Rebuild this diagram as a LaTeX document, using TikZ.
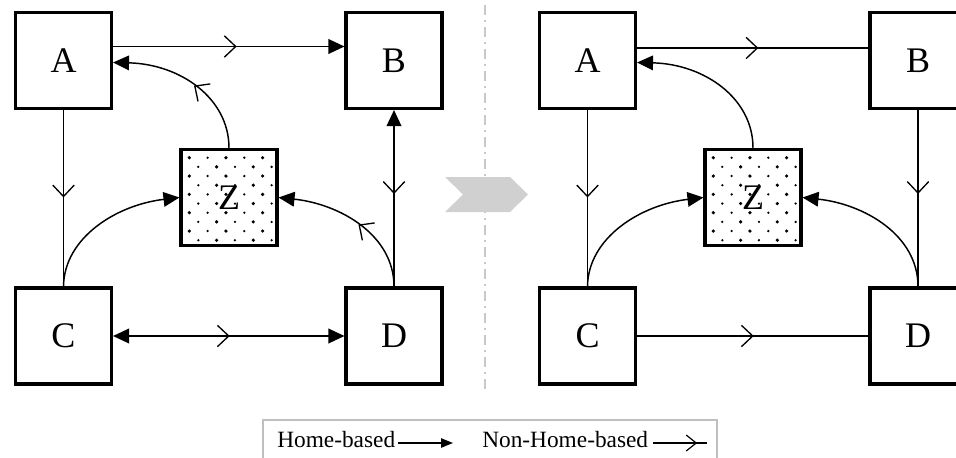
\documentclass[tikz,border=0pt]{standalone}
\usepackage{fontspec}
\setmainfont{Liberation Serif}
\usetikzlibrary{arrows.meta,decorations.markings,calc}

\definecolor{sepgray}{HTML}{C8C8C8}
\definecolor{chevgray}{HTML}{D0D0D0}
\definecolor{legframe}{HTML}{BFBFBF}

% staggered dot fill of the central zone; #1,#2 = top-left corner of the box
\newcommand\zdots[2]{%
  \foreach \r in {0,...,9}{%
    \foreach \c in {0,...,4}{%
      \pgfmathsetmacro\dotx{#1+9.3+9*mod(\r,2)+18.33*\c}%
      \pgfmathsetmacro\doty{#2+8.7+9.17*\r}%
      \pgfmathsetmacro\dotr{0.95+0.4*mod(\c+\r+1,2)}%
      \fill (\dotx,\doty) circle (\dotr pt);
    }}}

\tikzset{
  box/.style={draw, line width=2.3pt, minimum size=72pt, inner sep=0pt,
    fill=white, font=\fontsize{27}{27}\selectfont},
  boxtext/.style={inner sep=0pt, font=\fontsize{27}{27}\selectfont},
  conn/.style={line width=1.1pt},
  home/.style={-{Triangle[length=12pt,width=11pt]}},
  homeboth/.style={{Triangle[length=12pt,width=11pt]}-{Triangle[length=12pt,width=11pt]}},
  % open chevron for non-home-based trips, pointing along the path
  nhb/.style={postaction={decorate}, decoration={markings,
    mark=at position #1 with {\draw[-, line width=1pt] (-8.5pt,8pt) -- (0,0) -- (-8.5pt,-8pt);}}},
  nhb/.default=0.5,
  % same chevron pointing against the path direction
  nhbrev/.style={postaction={decorate}, decoration={markings,
    mark=at position #1 with {\draw[-, line width=1pt] (8.5pt,8pt) -- (0,0) -- (8.5pt,-8pt);}}},
  nhbrev/.default=0.5,
  legnhb/.style={postaction={decorate}, decoration={markings,
    mark=at position #1 with {\draw[-, line width=0.9pt] (-7.5pt,6pt) -- (0,0) -- (-7.5pt,-6pt);}}},
  sepline/.style={draw=sepgray, line width=1.5pt,
    dash pattern=on 7.5pt off 3.75pt on 1.5pt off 3.75pt},
  legtext/.style={inner sep=0pt, font=\fontsize{17.5}{17.5}\selectfont},
}

\begin{document}
\begin{tikzpicture}[x=0.75pt,y=-0.75pt]
\useasboundingbox (0,0) rectangle (956,457);
\clip (0,0) rectangle (956,457);

% ---------- left panel ----------
\node[box] (A) at (63.5,60.5) {A};
\node[box] (B) at (394,60.5) {B};
\node[box] (C) at (63.5,336) {C};
\node[box] (D) at (394,336) {D};
\node[box] (Z) at (229,197.5) {};
\zdots{180}{149}
\node[boxtext] (Zt) at (Z) {Z};

\draw[conn,home,nhb=0.53] ([yshift=10.5pt]A.east) -- ([yshift=10.5pt]B.west);
\draw[conn,nhb=0.49] (A) -- (C);
\draw[conn,home,nhbrev=0.53] (D) -- (B);
\draw[conn,homeboth,nhb=0.5] (C) -- (D);
\draw[conn,home,nhb=0.46] (Z.north) .. controls (229,98) and (180,64) .. ([yshift=-1.5pt]A.east);
\draw[conn,home] (C.north) .. controls (64,238) and (116,205) .. (Z.west);
\draw[conn,home,nhb=0.46] (D.north) .. controls (394,235) and (340,204) .. (Z.east);

% ---------- separator ----------
\coordinate (septop) at (485,5);
\coordinate (sepbot) at (485,393);
\draw[sepline] (septop) -- (sepbot);
\fill[chevgray] (445,177) -- (510,177) -- (528,194.5) -- (510,212) -- (445,212) -- (463,194.5) -- cycle;

% ---------- right panel ----------
\begin{scope}[xshift=393pt]
\node[box] (A2) at (63.5,60.5) {A};
\node[box] (B2) at (394,60.5) {B};
\node[box] (C2) at (63.5,336) {C};
\node[box] (D2) at (394,336) {D};
\node[box] (Z2) at (229,197.5) {};
\zdots{180}{149}
\node[boxtext] (Z2t) at (Z2) {Z};

\draw[conn,nhb=0.52] ([yshift=9.4pt]A2.east) -- ([yshift=9.4pt]B2.west);
\draw[conn,nhb=0.49] (A2) -- (C2);
\draw[conn,nhb=0.47] (B2) -- (D2);
\draw[conn,nhb=0.5] (C2) -- (D2);
\draw[conn,home] (Z2.north) .. controls (229,98) and (180,64) .. ([yshift=-1.5pt]A2.east);
\draw[conn,home] (C2.north) .. controls (64,238) and (116,205) .. (Z2.west);
\draw[conn,home] (D2.north) .. controls (394,235) and (340,204) .. (Z2.east);
\end{scope}

% ---------- legend ----------
\draw[legframe, line width=0.8pt] (263,420) rectangle (717,470);
\node[legtext, anchor=base west] (lhome) at (277,447) {Home-based};
\coordinate (h1) at (398,443);
\coordinate (h2) at (453,443);
\draw[conn,-{Triangle[length=9pt,width=7pt]}] (h1) -- (h2);
\node[legtext, anchor=base west] (lnon) at (482,447) {Non-Home-based};
\coordinate (n1) at (653,443);
\coordinate (n2) at (707,443);
\draw[conn,legnhb=0.8] (n1) -- (n2);
\end{tikzpicture}
\end{document}
